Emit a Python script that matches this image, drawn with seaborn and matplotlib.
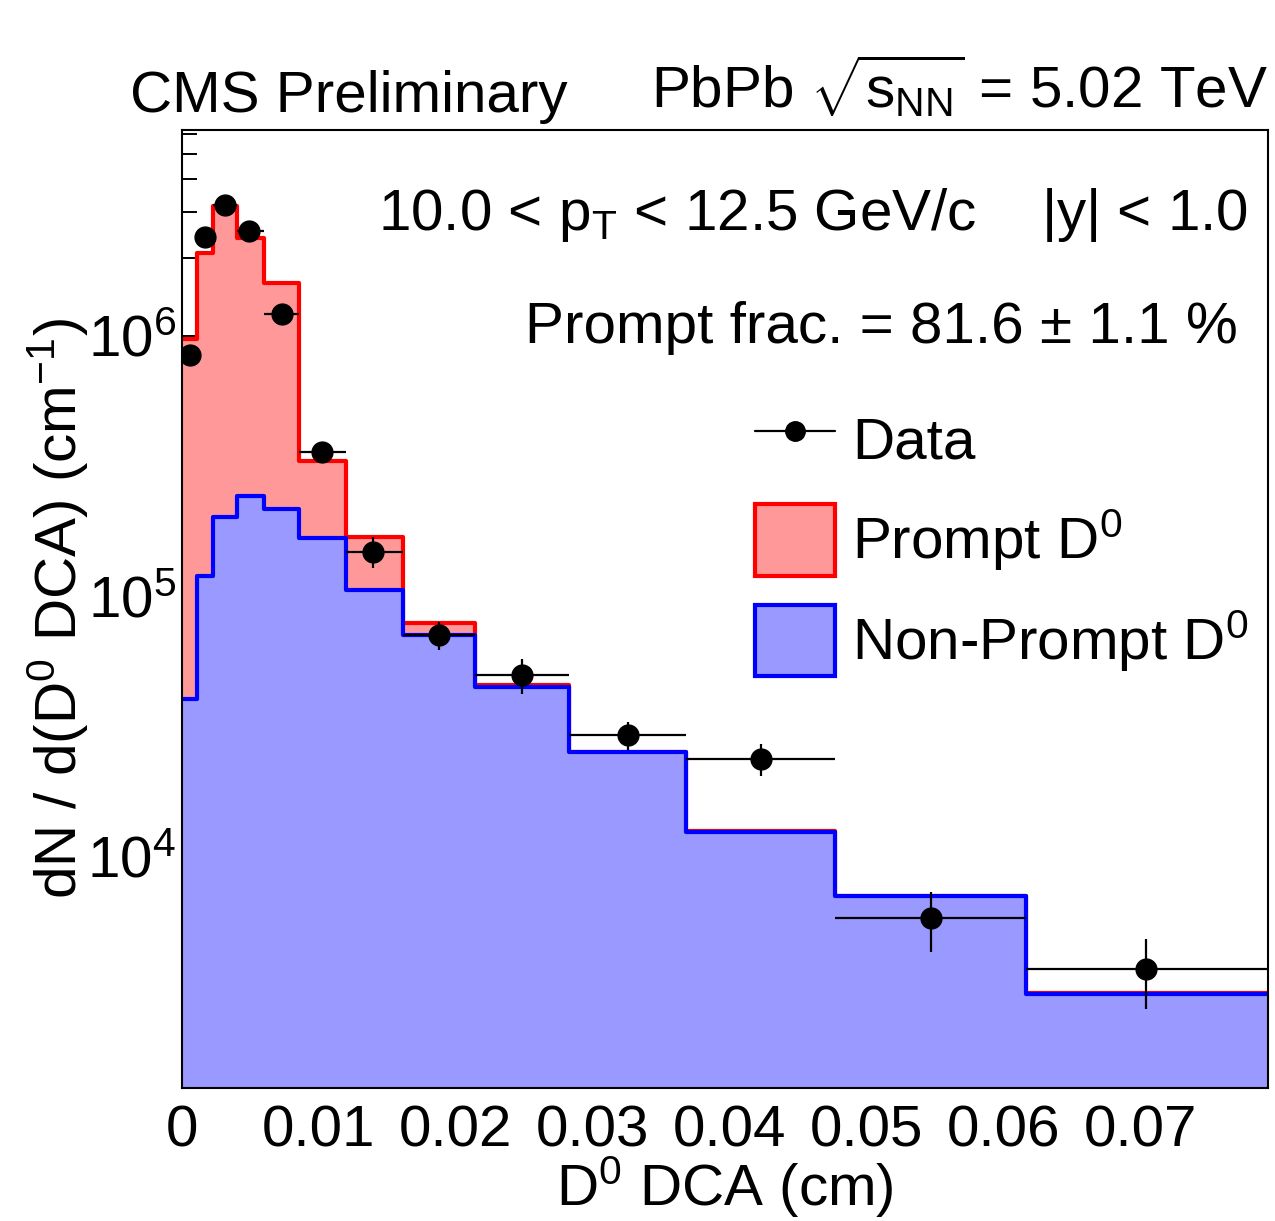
import numpy as np
import pandas as pd
import matplotlib
matplotlib.use("Agg")
import matplotlib.pyplot as plt
import seaborn as sns
from matplotlib.lines import Line2D
from matplotlib.patches import Patch
from matplotlib.ticker import LogLocator, FixedLocator, FixedFormatter, NullFormatter

# ---------------- data ----------------
bin_edges = [0.0, 0.0011, 0.00226, 0.0040, 0.0060, 0.00854, 0.01197, 0.01613,
             0.0214, 0.02825, 0.0368, 0.0477, 0.0616, 0.0793]
nonprompt = [4.0e4, 1.19e5, 2.01e5, 2.42e5, 2.16e5, 1.67e5, 1.05e5, 7.07e4,
             4.47e4, 2.5e4, 1.24e4, 7.0e3, 2.95e3]
prompt = [9.3e5, 1.97e6, 2.96e6, 2.14e6, 1.38e6, 1.63e5, 6.3e4, 8.0e3,
          700, 150, 70, 20, 8]
data_x = [0.00058, 0.00168, 0.00314, 0.0049, 0.0073, 0.0102, 0.01394, 0.01876,
          0.0248, 0.03255, 0.04226, 0.05467, 0.0704]
data_y = [8.45e5, 2.4e6, 3.19e6, 2.53e6, 1.22e6, 3.58e5, 1.48e5, 7.07e4,
          4.97e4, 2.92e4, 2.36e4, 5.78e3, 3.67e3]
data_err = [3.0e4, 5.0e4, 6.0e4, 5.0e4, 3.5e4, 1.5e4, 2.0e4, 8.8e3,
            7.6e3, 3.6e3, 3.3e3, 1.5e3, 1.1e3]
xtick_vals = [0.0, 0.01, 0.02, 0.03, 0.04, 0.05, 0.06, 0.07]
xtick_labels = ["0", "0.01", "0.02", "0.03", "0.04", "0.05", "0.06", "0.07"]

# ---------------- style ----------------
sns.set_style("ticks")
plt.rcParams["font.family"] = ["Liberation Sans", "DejaVu Sans"]
plt.rcParams["mathtext.fontset"] = "custom"
plt.rcParams["mathtext.rm"] = "Liberation Sans"
plt.rcParams["mathtext.it"] = "Liberation Sans:italic"
plt.rcParams["mathtext.bf"] = "Liberation Sans:bold"
plt.rcParams["axes.linewidth"] = 1.5
for k in ["text.color", "axes.labelcolor", "xtick.color", "ytick.color",
          "axes.edgecolor", "xtick.labelcolor", "ytick.labelcolor"]:
    plt.rcParams[k] = "black"

FS = 42
W, H = 1275, 1221
fig = plt.figure(figsize=(W / 100, H / 100), dpi=100)
ax = fig.add_axes([182 / W, 1 - 1088 / H, (1268 - 182) / W, (1088 - 130) / H])

edges = list(bin_edges)
e_arr = np.array(bin_edges)
centers = 0.5 * (e_arr[:-1] + e_arr[1:])
df = pd.DataFrame({
    "dca": centers,
    "total": np.array(prompt) + np.array(nonprompt),
    "nonprompt": np.array(nonprompt, dtype=float),
})

red_fill = "#ff9999"
blue_fill = "#9999ff"

sns.histplot(data=df, x="dca", weights="total", bins=edges, element="step", fill=True,
             color=red_fill, alpha=1, linewidth=0, ax=ax, zorder=1)
sns.histplot(data=df, x="dca", weights="total", bins=edges, element="step", fill=False,
             color="#ff0000", linewidth=3, ax=ax, zorder=1.1)
sns.histplot(data=df, x="dca", weights="nonprompt", bins=edges, element="step", fill=True,
             color=blue_fill, alpha=1, linewidth=0, ax=ax, zorder=1.2)
sns.histplot(data=df, x="dca", weights="nonprompt", bins=edges, element="step", fill=False,
             color="#0000ff", linewidth=3, ax=ax, zorder=1.3)

# data points
dx = np.array(data_x)
idx = np.searchsorted(e_arr, dx) - 1
xerr = np.vstack([dx - e_arr[idx], e_arr[idx + 1] - dx])
ax.errorbar(dx, data_y, xerr=xerr, yerr=data_err, fmt="o", color="black",
            markersize=15, elinewidth=1.6, capsize=0, zorder=5)

ax.set_yscale("log")
ax.set_xlim(bin_edges[0], bin_edges[-1])
ax.set_ylim(1280, 6.2e6)
ax.set_axisbelow(True)

ax.xaxis.set_major_locator(FixedLocator(xtick_vals))
ax.xaxis.set_major_formatter(FixedFormatter(xtick_labels))
ax.yaxis.set_major_locator(LogLocator(base=10, numticks=10))
ax.yaxis.set_minor_locator(LogLocator(base=10, subs=np.arange(2, 10), numticks=20))
ax.yaxis.set_minor_formatter(NullFormatter())
ax.tick_params(axis="both", which="both", direction="in", width=1.4,
               labelsize=FS, top=False, right=False, colors="black")
ax.tick_params(axis="both", which="major", length=22)
ax.tick_params(axis="both", which="minor", length=11)
ax.tick_params(axis="x", which="major", pad=12)
ax.tick_params(axis="y", which="major", pad=4)

ax.set_xlabel(r"D$^0$ DCA (cm)", fontsize=FS)
ax.set_ylabel(r"dN / d(D$^0$ DCA) (cm$^{-1}$)", fontsize=FS)
ax.xaxis.set_label_coords(0.5, -0.069)
ax.yaxis.set_label_coords(-0.084, 0.5)

for s in ax.spines.values():
    s.set_zorder(6)
    s.set_linewidth(1.5)
    s.set_color("black")

# texts
fig.text(130 / W, 1 - 112 / H, "CMS Preliminary", fontsize=FS, ha="left", va="baseline")
fig.text(1268 / W, 1 - 108 / H, r"PbPb $\sqrt{\mathrm{s}_{\mathrm{NN}}}$ = 5.02 TeV",
         fontsize=FS, ha="right", va="baseline")
fig.text(1248 / W, 1 - 230 / H, r"10.0 < p$_{\mathrm{T}}$ < 12.5 GeV/c    |y| < 1.0",
         fontsize=FS, ha="right", va="baseline")
fig.text(1238 / W, 1 - 343 / H, "Prompt frac. = 81.6 ± 1.1 %",
         fontsize=FS, ha="right", va="baseline")

handles = [
    Line2D([], [], color="black", marker="o", markersize=14, linewidth=1.6),
    Patch(facecolor=red_fill, edgecolor="#ff0000", linewidth=3),
    Patch(facecolor=blue_fill, edgecolor="#0000ff", linewidth=3),
]
labels = ["Data", r"Prompt D$^0$", r"Non-Prompt D$^0$"]
ax.legend(handles, labels, loc="upper left",
          bbox_to_anchor=(755 / W, 1 - 404 / H), bbox_transform=fig.transFigure,
          frameon=False, borderpad=0, borderaxespad=0, fontsize=FS,
          handlelength=1.37, handleheight=1.5, handletextpad=0.3,
          labelspacing=0.5)

fig.savefig("out.png", dpi=100)
